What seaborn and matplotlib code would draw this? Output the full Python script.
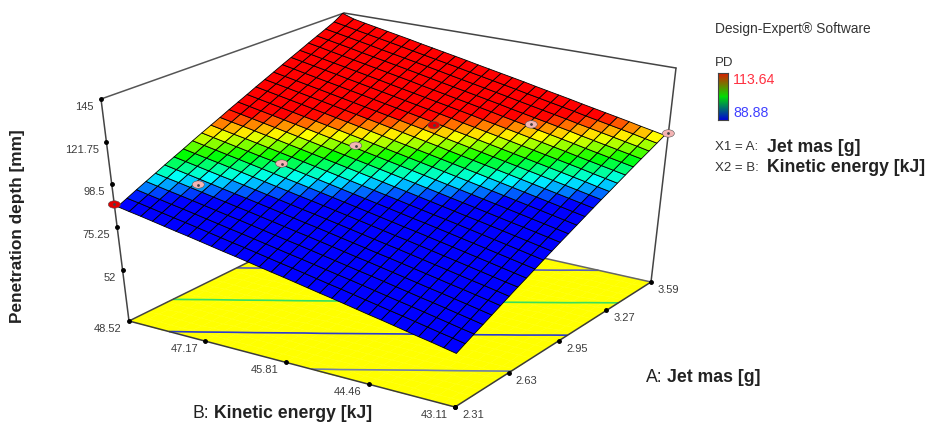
import numpy as np
import pandas as pd
import seaborn as sns
import matplotlib
matplotlib.use("Agg")
import matplotlib.pyplot as plt
from matplotlib.path import Path
from matplotlib.transforms import Affine2D

sns.set_style("white")
plt.rcParams['font.family'] = ['Liberation Sans', 'DejaVu Sans']

# axis ticks
a_ticks = [2.31, 2.63, 2.95, 3.27, 3.59]
a_labels = ['2.31', '2.63', '2.95', '3.27', '3.59']
b_ticks = [48.52, 47.17, 45.81, 44.46, 43.11]
b_labels = ['48.52', '47.17', '45.81', '44.46', '43.11']
z_ticks = [145, 121.75, 98.5, 75.25, 52]
z_labels = ['145', '121.75', '98.5', '75.25', '52']
z_floor = 24.0  # bottom of the box, no label on it

# PD, one row per A step (2.31 to 3.59), columns B 43.11 to 48.52
pd_rows = [
[51.0,52.3,53.6,54.8,56.1,57.4,58.7,59.9,61.2,62.5,63.8,65.0,66.3,67.6,68.9,70.1,71.4,72.7,74.0,75.2,76.5,77.8,79.1,80.3,81.6,82.9,84.2,85.4,86.7],
[53.3,54.6,55.8,57.1,58.4,59.7,60.9,62.2,63.5,64.8,66.1,67.3,68.6,69.9,71.2,72.4,73.7,75.0,76.3,77.5,78.8,80.1,81.4,82.7,83.9,85.2,86.5,87.8,89.0],
[55.6,56.8,58.1,59.4,60.7,62.0,63.2,64.5,65.8,67.1,68.4,69.6,70.9,72.2,73.5,74.7,76.0,77.3,78.6,79.9,81.1,82.4,83.7,85.0,86.3,87.5,88.8,90.1,91.4],
[57.8,59.1,60.4,61.7,63.0,64.2,65.5,66.8,68.1,69.4,70.6,71.9,73.2,74.5,75.8,77.1,78.3,79.6,80.9,82.2,83.5,84.7,86.0,87.3,88.6,89.9,91.1,92.4,93.7],
[60.1,61.4,62.7,64.0,65.3,66.5,67.8,69.1,70.4,71.7,73.0,74.2,75.5,76.8,78.1,79.4,80.6,81.9,83.2,84.5,85.8,87.0,88.3,89.6,90.9,92.2,93.5,94.7,96.0],
[62.4,63.7,65.0,66.3,67.5,68.8,70.1,71.4,72.7,74.0,75.2,76.5,77.8,79.1,80.4,81.7,82.9,84.2,85.5,86.8,88.1,89.4,90.6,91.9,93.2,94.5,95.8,97.1,98.4],
[64.7,66.0,67.3,68.5,69.8,71.1,72.4,73.7,75.0,76.3,77.5,78.8,80.1,81.4,82.7,84.0,85.3,86.5,87.8,89.1,90.4,91.7,93.0,94.3,95.5,96.8,98.1,99.4,100.7],
[67.0,68.2,69.5,70.8,72.1,73.4,74.7,76.0,77.3,78.6,79.8,81.1,82.4,83.7,85.0,86.3,87.6,88.9,90.1,91.4,92.7,94.0,95.3,96.6,97.9,99.2,100.4,101.7,103.0],
[69.2,70.5,71.8,73.1,74.4,75.7,77.0,78.3,79.6,80.9,82.1,83.4,84.7,86.0,87.3,88.6,89.9,91.2,92.5,93.8,95.0,96.3,97.6,98.9,100.2,101.5,102.8,104.1,105.4],
[71.5,72.8,74.1,75.4,76.7,78.0,79.3,80.6,81.9,83.2,84.4,85.7,87.0,88.3,89.6,90.9,92.2,93.5,94.8,96.1,97.4,98.7,100.0,101.2,102.5,103.8,105.1,106.4,107.7],
[73.8,75.1,76.4,77.7,79.0,80.3,81.6,82.9,84.2,85.4,86.7,88.0,89.3,90.6,91.9,93.2,94.5,95.8,97.1,98.4,99.7,101.0,102.3,103.6,104.9,106.2,107.4,108.7,110.0],
[76.1,77.4,78.7,80.0,81.3,82.6,83.9,85.1,86.4,87.7,89.0,90.3,91.6,92.9,94.2,95.5,96.8,98.1,99.4,100.7,102.0,103.3,104.6,105.9,107.2,108.5,109.8,111.0,112.3],
[78.4,79.7,81.0,82.3,83.5,84.8,86.1,87.4,88.7,90.0,91.3,92.6,93.9,95.2,96.5,97.8,99.1,100.4,101.7,103.0,104.3,105.6,106.9,108.2,109.5,110.8,112.1,113.4,114.7],
[80.6,81.9,83.2,84.5,85.8,87.1,88.4,89.7,91.0,92.3,93.6,94.9,96.2,97.5,98.8,100.1,101.4,102.7,104.0,105.3,106.6,107.9,109.2,110.5,111.8,113.1,114.4,115.7,117.0],
[82.9,84.2,85.5,86.8,88.1,89.4,90.7,92.0,93.3,94.6,95.9,97.2,98.5,99.8,101.1,102.4,103.7,105.0,106.3,107.6,108.9,110.2,111.5,112.8,114.1,115.4,116.7,118.0,119.3],
[85.2,86.5,87.8,89.1,90.4,91.7,93.0,94.3,95.6,96.9,98.2,99.5,100.8,102.1,103.4,104.7,106.0,107.4,108.7,110.0,111.3,112.6,113.9,115.2,116.5,117.8,119.1,120.4,121.7],
[87.5,88.8,90.1,91.4,92.7,94.0,95.3,96.6,97.9,99.2,100.5,101.8,103.1,104.5,105.8,107.1,108.4,109.7,111.0,112.3,113.6,114.9,116.2,117.5,118.8,120.1,121.4,122.7,124.0],
[89.8,91.1,92.4,93.7,95.0,96.3,97.6,98.9,100.2,101.5,102.8,104.1,105.4,106.7,108.1,109.4,110.7,112.0,113.3,114.6,115.9,117.2,118.5,119.8,121.1,122.4,123.7,125.0,126.3],
[92.0,93.3,94.7,96.0,97.3,98.6,99.9,101.2,102.5,103.8,105.1,106.4,107.7,109.0,110.4,111.7,113.0,114.3,115.6,116.9,118.2,119.5,120.8,122.1,123.4,124.7,126.0,127.4,128.7],
[94.3,95.6,96.9,98.3,99.6,100.9,102.2,103.5,104.8,106.1,107.4,108.7,110.0,111.3,112.7,114.0,115.3,116.6,117.9,119.2,120.5,121.8,123.1,124.4,125.8,127.1,128.4,129.7,131.0],
[96.6,97.9,99.2,100.5,101.8,103.2,104.5,105.8,107.1,108.4,109.7,111.0,112.3,113.7,115.0,116.3,117.6,118.9,120.2,121.5,122.8,124.2,125.5,126.8,128.1,129.4,130.7,132.0,133.3],
[98.9,100.2,101.5,102.8,104.1,105.5,106.8,108.1,109.4,110.7,112.0,113.3,114.7,116.0,117.3,118.6,119.9,121.2,122.5,123.9,125.2,126.5,127.8,129.1,130.4,131.7,133.0,134.4,135.7],
[101.2,102.5,103.8,105.1,106.4,107.7,109.1,110.4,111.7,113.0,114.3,115.6,117.0,118.3,119.6,120.9,122.2,123.5,124.8,126.2,127.5,128.8,130.1,131.4,132.7,134.1,135.4,136.7,138.0],
[103.4,104.8,106.1,107.4,108.7,110.0,111.3,112.7,114.0,115.3,116.6,117.9,119.3,120.6,121.9,123.2,124.5,125.8,127.2,128.5,129.8,131.1,132.4,133.7,135.1,136.4,137.7,139.0,140.3],
[105.7,107.0,108.4,109.7,111.0,112.3,113.6,115.0,116.3,117.6,118.9,120.2,121.6,122.9,124.2,125.5,126.8,128.2,129.5,130.8,132.1,133.4,134.8,136.1,137.4,138.7,140.0,141.4,142.7],
[108.0,109.3,110.6,112.0,113.3,114.6,115.9,117.2,118.6,119.9,121.2,122.5,123.9,125.2,126.5,127.8,129.1,130.5,131.8,133.1,134.4,135.7,137.1,138.4,139.7,141.0,142.3,143.7,146.0],
]

# design points
point_a = [2.31, 2.53, 2.75, 2.95, 3.18, 3.37, 3.59]
point_b = [48.52, 47.82, 47.11, 46.48, 45.85, 44.77, 43.11]
point_pd = [87.5, 93.4, 100.2, 105.8, 111.8, 111.4, 108.0]
point_kind = ['high', 'low', 'low', 'low', 'high', 'low', 'low']

# floor contours
contour_levels = [66, 82, 97.5, 114]
contour_colors = ['#6f7fa8', '#2a3ad0', '#35e060', '#5a60b8']

# legend range
pd_min = 88.88
pd_max = 113.64

# where the box corners sit in the picture: (Amin,Bmin),(Amax,Bmin),(Amin,Bmax),(Amax,Bmax)
floor_px = [(455, 407), (651, 282), (129, 321), (346, 214)]
top_px = [(461, 167), (676, 68), (101, 99), (344, 13)]


def homography(px):
    # unit square to picture
    rows, rhs = [], []
    for (s, t), (u, v) in zip([(0, 0), (1, 0), (0, 1), (1, 1)], px):
        rows.append([s, t, 1, 0, 0, 0, -u * s, -u * t])
        rows.append([0, 0, 0, s, t, 1, -v * s, -v * t])
        rhs += [u, v]
    return np.append(np.linalg.solve(np.array(rows, float), np.array(rhs, float)), 1).reshape(3, 3)


h_floor = homography(floor_px)
h_top = homography(top_px)


def apply_h(h, s, t):
    w = h[2, 0] * s + h[2, 1] * t + h[2, 2]
    return (h[0, 0] * s + h[0, 1] * t + h[0, 2]) / w, (h[1, 0] * s + h[1, 1] * t + h[1, 2]) / w


def project(a, b, z):
    # A, B, PD to picture position
    s = (np.asarray(a, float) - 2.31) / (3.59 - 2.31)
    t = (np.asarray(b, float) - 43.11) / (48.52 - 43.11)
    k = (np.asarray(z, float) - z_floor) / (145 - z_floor)
    fx, fy = apply_h(h_floor, s, t)
    tx, ty = apply_h(h_top, s, t)
    return fx + k * (tx - fx), fy + k * (ty - fy)


fig = plt.figure(figsize=(9.26, 4.23), dpi=100)
ax = fig.add_axes([0, 0, 1, 1])
ax.set_xlim(0, 926)
ax.set_ylim(423, 0)
ax.axis('off')

Z = np.array(pd_rows)
n_a, n_b = Z.shape
AA, BB = np.meshgrid(np.linspace(2.31, 3.59, n_a), np.linspace(43.11, 48.52, n_b), indexing='ij')
# the mesh stops just short of the box at the far ends
SA, SB = np.meshgrid(np.linspace(2.31, 3.565, n_a), np.linspace(43.11, 48.47, n_b), indexing='ij')

# yellow floor with the contours on it
fx, fy = project(AA, BB, np.full(AA.shape, z_floor))
ax.pcolormesh(fx, fy, np.ones((n_a - 1, n_b - 1)), cmap=sns.blend_palette(['#ffff00', '#ffff00'], as_cmap=True),
              shading='flat', zorder=1, antialiased=True, edgecolors='face', linewidth=0.3)
ax.contour(fx, fy, Z, levels=contour_levels, colors=contour_colors, linewidths=1.2, zorder=2)


def edge(c1, c2, color='#3a3a3a', lw=1.1, zorder=3):
    x, y = project([c1[0], c2[0]], [c1[1], c2[1]], [c1[2], c2[2]])
    ax.plot(x, y, color=color, lw=lw, zorder=zorder, solid_capstyle='round')


a0, a1, b0, b1 = 2.31, 3.59, 43.11, 48.52
edge((a0, b1, z_floor), (a0, b0, z_floor))
edge((a0, b0, z_floor), (a1, b0, z_floor))
edge((a1, b0, z_floor), (a1, b1, z_floor), color='#666666')
edge((a0, b1, z_floor), (a1, b1, z_floor), color='#444444')
edge((a0, b1, z_floor), (a0, b1, 145), color='#444444')
edge((a1, b0, z_floor), (a1, b0, 145), color='#444444')
edge((a0, b1, 145), (a1, b1, 145), color='#555555')
edge((a1, b1, 145), (a1, b0, 145), color='#444444')

# surface
Z_cells = (Z[:-1, :-1] + Z[1:, :-1] + Z[:-1, 1:] + Z[1:, 1:]) / 4
surface_cmap = sns.blend_palette(['#0000ff', '#00ffff', '#00ff00', '#ffff00', '#ff0000'], n_colors=64, as_cmap=True)
sx, sy = project(SA, SB, Z)
mesh = ax.pcolormesh(sx, sy, Z_cells, cmap=surface_cmap, vmin=pd_min, vmax=pd_max, shading='flat',
                     edgecolors='#000000', linewidth=0.6, antialiased=True, zorder=4)
mesh.set_snap(False)

# ticks and tick labels
label_color = '#3c3c3c'
for v, lab in zip(z_ticks, z_labels):
    x, y = project(a0, b1, v)
    ax.plot(x, y, 'o', color='k', ms=2.5, zorder=3)
    ax.text(x - 7, y + 8, lab, ha='right', va='center', fontsize=8, color=label_color)
for v, lab in zip(b_ticks, b_labels):
    x, y = project(a0, v, z_floor)
    ax.plot(x, y, 'o', color='k', ms=2.5, zorder=3)
    ax.text(x - 7, y + 8, lab, ha='right', va='center', fontsize=8, color=label_color)
for v, lab in zip(a_ticks, a_labels):
    x, y = project(v, b0, z_floor)
    ax.plot(x, y, 'o', color='k', ms=2.5, zorder=3)
    ax.text(x + 7, y + 8, lab, ha='left', va='center', fontsize=8, color=label_color)

# design points, flattened like in the picture
px, py = project(point_a, point_b, point_pd)
points = pd.DataFrame({'x': px, 'y': py, 'kind': point_kind})
oval = Path.unit_circle().transformed(Affine2D().scale(1, 0.62))
sns.scatterplot(data=points, x='x', y='y', hue='kind', palette={'high': '#e00000', 'low': '#f4b4b4'},
                marker=oval, s=75, edgecolor='#555555', linewidth=0.4, legend=False, ax=ax, zorder=6)
ax.plot(px, py, 'o', color='#444444', ms=1, ls='none', zorder=7)
ax.set_xlabel('')
ax.set_ylabel('')
ax.set_xlim(0, 926)
ax.set_ylim(423, 0)

# axis titles
title_size = 12.7
ax.text(18, 226, 'Penetration depth [mm]', rotation=90, ha='center', va='center', fontsize=12.4, fontweight='bold', color='#222222')
ax.text(192, 414, 'B:', ha='left', va='center', fontsize=title_size, color='#222222')
ax.text(214, 414, 'Kinetic energy [kJ]', ha='left', va='center', fontsize=title_size, fontweight='bold', color='#222222')
ax.text(646, 378, 'A:', ha='left', va='center', fontsize=title_size, color='#222222')
ax.text(667, 378, 'Jet mas [g]', ha='left', va='center', fontsize=title_size, fontweight='bold', color='#222222')

# right side notes
ax.text(715, 29, 'Design-Expert® Software', ha='left', va='center', fontsize=9.9, color='#333333')
ax.text(715, 63, 'PD', ha='left', va='center', fontsize=9.5, color='#333333')
ax.text(733, 80, f'{pd_max:.2f}', ha='left', va='center', fontsize=10.2, color='#ff3040')
ax.text(733, 113, f'{pd_min:.2f}', ha='left', va='center', fontsize=10.2, color='#4040ff')
ax.text(715, 147, 'X1 = A:', ha='left', va='center', fontsize=9.5, color='#333333')
ax.text(767, 147, 'Jet mas [g]', ha='left', va='center', fontsize=title_size, fontweight='bold', color='#222222')
ax.text(715, 168, 'X2 = B:', ha='left', va='center', fontsize=9.5, color='#333333')
ax.text(767, 168, 'Kinetic energy [kJ]', ha='left', va='center', fontsize=title_size, fontweight='bold', color='#222222')

# little colour key, red on top
key_ax = fig.add_axes([718 / 926, 1 - 120 / 423, 10 / 926, 47 / 423])
key_cmap = sns.blend_palette(['#d81e00', '#00e000', '#0008d0'], as_cmap=True)
sns.heatmap(np.linspace(0, 1, 48).reshape(-1, 1), cmap=key_cmap, cbar=False, xticklabels=False, yticklabels=False, ax=key_ax)
for sp in key_ax.spines.values():
    sp.set_visible(True)
    sp.set_color('#444444')
    sp.set_linewidth(0.8)

fig.savefig('out.png', dpi=100)
